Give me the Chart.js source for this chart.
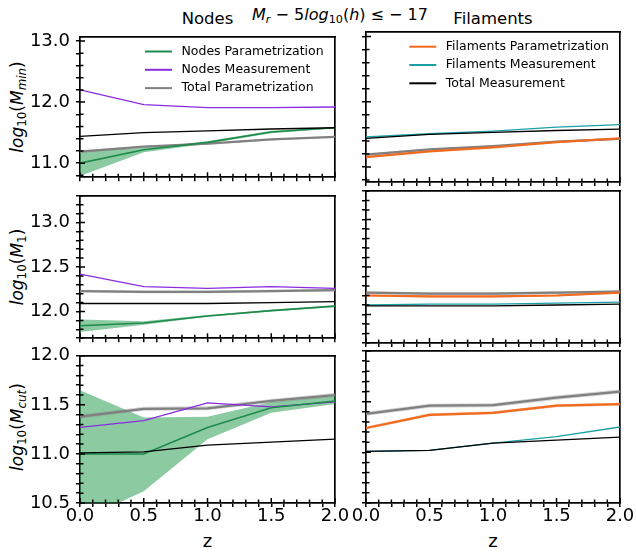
<!DOCTYPE html>
<html lang="en">
<head>
<meta charset="UTF-8">
<title>HOD parameters vs redshift</title>
<script src="https://cdn.jsdelivr.net/npm/chart.js"></script>
<style>
  body { margin: 0; background: #fff; font-family: "DejaVu Sans", sans-serif; }
  #fig { position: relative; width: 636px; height: 554px; overflow: hidden; }
  #fig canvas { position: absolute; }
  .txt { position: absolute; white-space: nowrap; line-height: 1; color: #000; }
  .ctr { transform: translateX(-50%); }
  .ylab { font-size: 17px; transform: translate(-50%, -50%) rotate(-90deg); }
  sub { font-size: 70%; vertical-align: -0.3em; line-height: 0; }
</style>
</head>
<body>
<div id="fig">
  <div class="txt ctr" style="left:340px; top:7px; font-size:16px;"><i>M</i><sub><i>r</i></sub> &minus; 5<i>log</i><sub>10</sub>(<i>h</i>) &le; &minus; 17</div>
  <div class="txt ctr" style="left:207.5px; top:11px; font-size:16.5px;">Nodes</div>
  <div class="txt ctr" style="left:493px; top:11px; font-size:16.5px;">Filaments</div>
  <div class="txt ylab" style="left:17px; top:107px;"><i>log</i><sub>10</sub>(<i>M</i><sub><i>min</i></sub>)</div>
  <div class="txt ylab" style="left:17px; top:267px;"><i>log</i><sub>10</sub>(<i>M</i><sub>1</sub>)</div>
  <div class="txt ylab" style="left:17px; top:427px;"><i>log</i><sub>10</sub>(<i>M</i><sub><i>cut</i></sub>)</div>
  <div class="txt ctr" style="left:207.5px; top:532px; font-size:18px;">z</div>
  <div class="txt ctr" style="left:493px; top:532px; font-size:18px;">z</div>
</div>

<script>
const zValues = [0.0, 0.5, 1.0, 1.5, 2.0];

// log10(M_min)
const mminNodesParam   = [11.00, 11.22, 11.34, 11.51, 11.58];
const mminNodesParamLo = [10.79, 11.18, 11.32, 11.49, 11.57];
const mminNodesParamHi = [11.20, 11.25, 11.36, 11.53, 11.59];
const mminNodesMeas    = [12.20, 11.96, 11.91, 11.91, 11.92];
const mminFilParam     = [11.15, 11.24, 11.30, 11.38, 11.44];
const mminFilParamLo   = [11.14, 11.23, 11.29, 11.37, 11.43];
const mminFilParamHi   = [11.16, 11.25, 11.31, 11.39, 11.45];
const mminFilMeas      = [11.46, 11.51, 11.55, 11.61, 11.65];
const mminTotalParam   = [11.19, 11.27, 11.32, 11.39, 11.43];
const mminTotalParamLo = [11.17, 11.25, 11.30, 11.37, 11.42];
const mminTotalParamHi = [11.21, 11.28, 11.33, 11.40, 11.44];
const mminTotalMeas    = [11.44, 11.50, 11.53, 11.56, 11.58];

// log10(M_1)
const m1NodesParam   = [11.84, 11.87, 11.95, 12.01, 12.06];
const m1NodesParamLo = [11.77, 11.85, 11.94, 12.00, 12.05];
const m1NodesParamHi = [11.91, 11.89, 11.96, 12.02, 12.07];
const m1NodesMeas    = [12.42, 12.28, 12.26, 12.28, 12.26];
const m1FilParam     = [12.20, 12.19, 12.19, 12.20, 12.23];
const m1FilParamLo   = [12.19, 12.18, 12.18, 12.19, 12.22];
const m1FilParamHi   = [12.21, 12.20, 12.20, 12.21, 12.24];
const m1FilMeas      = [12.10, 12.11, 12.11, 12.12, 12.13];
const m1TotalParam   = [12.23, 12.22, 12.22, 12.23, 12.24];
const m1TotalParamLo = [12.215, 12.205, 12.205, 12.215, 12.225];
const m1TotalParamHi = [12.245, 12.235, 12.235, 12.245, 12.255];
const m1TotalMeas    = [12.09, 12.09, 12.09, 12.10, 12.11];

// log10(M_cut)
const mcutNodesParam   = [11.00, 11.00, 11.27, 11.47, 11.54];
const mcutNodesParamLo = [10.32, 10.62, 11.15, 11.42, 11.51];
const mcutNodesParamHi = [11.65, 11.37, 11.38, 11.53, 11.59];
const mcutNodesMeas    = [11.27, 11.34, 11.52, 11.48, 11.53];
const mcutFilParam     = [11.24, 11.37, 11.39, 11.46, 11.475];
const mcutFilParamLo   = [11.225, 11.355, 11.375, 11.445, 11.46];
const mcutFilParamHi   = [11.255, 11.385, 11.405, 11.475, 11.49];
const mcutFilMeas      = [11.01, 11.02, 11.09, 11.155, 11.25];
const mcutTotalParam   = [11.38, 11.46, 11.465, 11.54, 11.60];
const mcutTotalParamLo = [11.36, 11.44, 11.445, 11.52, 11.58];
const mcutTotalParamHi = [11.40, 11.48, 11.485, 11.56, 11.62];
const mcutTotalMeas    = [11.01, 11.02, 11.09, 11.12, 11.15];

// labelled ticks on each row's y axis and on the z axis
const mminTicks = [11.0, 12.0, 13.0];
const m1Ticks   = [12.0, 12.5, 13.0];
const mcutTicks = [10.5, 11.0, 11.5, 12.0];
const zTicks    = [0.0, 0.5, 1.0, 1.5, 2.0];

const GREEN = '#1e8b4c', PURPLE = '#8a2be2', ORANGE = '#f06a1f', TEAL = '#1a9fa5', GRAY = '#808080', BLACK = '#000000';

// page geometry of the plot boxes
const cols = [{ left: 80, right: 335 }, { left: 366, right: 620 }];
const rows = [{ top: 32, bottom: 182 }, { top: 191, bottom: 343 }, { top: 351, bottom: 503 }];
const yRanges = [
  { min: 10.77, max: 13.07, ticks: mminTicks, minor: 0.2 },
  { min: 11.70, max: 13.30, ticks: m1Ticks, minor: 0.1 },
  { min: 10.50, max: 12.00, ticks: mcutTicks, minor: 0.1 }
];
const AXIS_W = 75, PAD_T = 12, PAD_R = 25, XLAB_H = 40;

const pts = arr => zValues.map((z, i) => ({ x: z, y: arr[i] }));
const isMajor = (v, list) => list.some(m => Math.abs(m - v) < 1e-6);

// every minor tick position between lo and hi
function tickSteps(lo, hi, step) {
  const out = [];
  for (let k = Math.ceil(lo / step - 1e-6); k <= Math.floor(hi / step + 1e-6); k++) {
    out.push(Math.round(k * step * 1000) / 1000);
  }
  return out;
}

function line(label, data, color, width) {
  return { label, data: pts(data), borderColor: color, borderWidth: width, pointRadius: 0, fill: false };
}
function band(lo, hi, color) {
  return [
    { label: '', data: pts(lo), borderColor: 'transparent', borderWidth: 0, pointRadius: 0, fill: false },
    { label: '', data: pts(hi), borderColor: 'transparent', borderWidth: 0, pointRadius: 0, fill: '-1', backgroundColor: color }
  ];
}

// inner half of the ticks plus the in-panel legend
const panelDecor = {
  id: 'panelDecor',
  afterDraw(chart) {
    const { ctx, chartArea: a } = chart;
    const x = chart.scales.x, y = chart.scales.y;
    const cfg = chart.options.plugins.panelDecor;
    ctx.save();
    ctx.strokeStyle = '#000000';
    ctx.lineWidth = 1.5;
    ctx.beginPath();
    tickSteps(0, 2, 0.1).forEach(v => {
      const px = x.getPixelForValue(v);
      const len = isMajor(v, zTicks) ? 5 : 3.5;
      ctx.moveTo(px, a.bottom);
      ctx.lineTo(px, a.bottom - len);
    });
    tickSteps(y.min, y.max, cfg.minor).forEach(v => {
      const py = y.getPixelForValue(v);
      const len = isMajor(v, cfg.majors) ? 5 : 3.5;
      ctx.moveTo(a.left, py);
      ctx.lineTo(a.left + len, py);
    });
    ctx.stroke();

    if (cfg.legend) {
      ctx.font = '12.5px "DejaVu Sans"';
      ctx.textBaseline = 'middle';
      ctx.fillStyle = '#000';
      cfg.legend.items.forEach((label, i) => {
        const ds = chart.data.datasets.find(d => d.label === label);
        const yy = a.top + cfg.legend.y + i * 18.3;
        const xx = a.left + cfg.legend.x;
        ctx.strokeStyle = ds.borderColor;
        ctx.lineWidth = 2;
        ctx.beginPath();
        ctx.moveTo(xx, yy);
        ctx.lineTo(xx + 27, yy);
        ctx.stroke();
        ctx.fillText(label, xx + 36.5, yy);
      });
    }
    ctx.restore();
  }
};

const panels = [
  { row: 0, col: 0, legend: { x: 65, y: 14.7, items: ['Nodes Parametrization', 'Nodes Measurement', 'Total Parametrization'] },
    datasets: [
      line('Total Measurement', mminTotalMeas, BLACK, 1.3),
      line('Nodes Parametrization', mminNodesParam, GREEN, 1.6),
      line('Nodes Measurement', mminNodesMeas, PURPLE, 1.3),
      line('Total Parametrization', mminTotalParam, GRAY, 2.2),
      ...band(mminTotalParamLo, mminTotalParamHi, 'rgba(128,128,128,0.35)'),
      ...band(mminNodesParamLo, mminNodesParamHi, 'rgba(26,150,70,0.5)')
    ] },
  { row: 0, col: 1, legend: { x: 43.3, y: 14.7, items: ['Filaments Parametrization', 'Filaments Measurement', 'Total Measurement'] },
    datasets: [
      line('Total Measurement', mminTotalMeas, BLACK, 1.3),
      line('Filaments Measurement', mminFilMeas, TEAL, 1.3),
      line('Filaments Parametrization', mminFilParam, ORANGE, 2.2),
      line('Total Parametrization', mminTotalParam, GRAY, 2.2),
      ...band(mminTotalParamLo, mminTotalParamHi, 'rgba(128,128,128,0.35)'),
      ...band(mminFilParamLo, mminFilParamHi, 'rgba(240,106,31,0.35)')
    ] },
  { row: 1, col: 0,
    datasets: [
      line('Total Measurement', m1TotalMeas, BLACK, 1.3),
      line('Nodes Parametrization', m1NodesParam, GREEN, 1.6),
      line('Nodes Measurement', m1NodesMeas, PURPLE, 1.3),
      line('Total Parametrization', m1TotalParam, GRAY, 2.2),
      ...band(m1TotalParamLo, m1TotalParamHi, 'rgba(128,128,128,0.35)'),
      ...band(m1NodesParamLo, m1NodesParamHi, 'rgba(26,150,70,0.5)')
    ] },
  { row: 1, col: 1,
    datasets: [
      line('Total Measurement', m1TotalMeas, BLACK, 1.3),
      line('Filaments Measurement', m1FilMeas, TEAL, 1.3),
      line('Filaments Parametrization', m1FilParam, ORANGE, 2.2),
      line('Total Parametrization', m1TotalParam, GRAY, 2.2),
      ...band(m1TotalParamLo, m1TotalParamHi, 'rgba(128,128,128,0.35)'),
      ...band(m1FilParamLo, m1FilParamHi, 'rgba(240,106,31,0.35)')
    ] },
  { row: 2, col: 0,
    datasets: [
      line('Total Measurement', mcutTotalMeas, BLACK, 1.3),
      line('Nodes Parametrization', mcutNodesParam, GREEN, 1.6),
      line('Nodes Measurement', mcutNodesMeas, PURPLE, 1.3),
      line('Total Parametrization', mcutTotalParam, GRAY, 2.2),
      ...band(mcutTotalParamLo, mcutTotalParamHi, 'rgba(128,128,128,0.35)'),
      ...band(mcutNodesParamLo, mcutNodesParamHi, 'rgba(26,150,70,0.5)')
    ] },
  { row: 2, col: 1,
    datasets: [
      line('Total Measurement', mcutTotalMeas, BLACK, 1.3),
      line('Filaments Measurement', mcutFilMeas, TEAL, 1.3),
      line('Filaments Parametrization', mcutFilParam, ORANGE, 2.2),
      line('Total Parametrization', mcutTotalParam, GRAY, 2.2),
      ...band(mcutTotalParamLo, mcutTotalParamHi, 'rgba(128,128,128,0.35)'),
      ...band(mcutFilParamLo, mcutFilParamHi, 'rgba(240,106,31,0.35)')
    ] }
];

const fig = document.getElementById('fig');
const spine = { display: true, color: '#000000', width: 1.7 };
const outerTicks = { display: true, drawOnChartArea: false, drawTicks: true, tickLength: 4, color: '#000000', lineWidth: 1.5 };

panels.forEach(p => {
  const c = cols[p.col], r = rows[p.row], yr = yRanges[p.row];
  const bottomRow = p.row === 2;
  const xH = bottomRow ? XLAB_H : 12;
  const canvas = document.createElement('canvas');
  canvas.width = AXIS_W + (c.right - c.left) + PAD_R;
  canvas.height = PAD_T + (r.bottom - r.top) + xH;
  canvas.style.left = (c.left - AXIS_W) + 'px';
  canvas.style.top = (r.top - PAD_T) + 'px';
  fig.appendChild(canvas);

  new Chart(canvas, {
    type: 'line',
    data: { datasets: p.datasets },
    options: {
      responsive: false,
      animation: false,
      layout: { padding: { left: 0, top: PAD_T, right: PAD_R, bottom: 0 } },
      elements: { line: { tension: 0 } },
      scales: {
        x: {
          type: 'linear', min: 0, max: 2,
          grid: outerTicks, border: spine,
          ticks: {
            display: bottomRow, autoSkip: false, maxRotation: 0, padding: -1,
            color: '#000', font: { family: 'DejaVu Sans', size: 18 },
            callback: v => isMajor(v, zTicks) ? v.toFixed(1) : ''
          },
          afterBuildTicks: s => { s.ticks = tickSteps(0, 2, 0.1).map(v => ({ value: v })); },
          afterFit: s => { s.height = xH; }
        },
        y: {
          type: 'linear', min: yr.min, max: yr.max,
          grid: outerTicks, border: spine,
          ticks: {
            display: p.col === 0, autoSkip: false, padding: 6,
            color: '#000', font: { family: 'DejaVu Sans', size: 18 },
            callback: v => isMajor(v, yr.ticks) ? v.toFixed(1) : ''
          },
          afterBuildTicks: s => { s.ticks = tickSteps(yr.min, yr.max, yr.minor).map(v => ({ value: v })); },
          afterFit: s => { s.width = AXIS_W; }
        },
        xTop: {
          type: 'linear', position: 'top', min: 0, max: 2,
          grid: { display: false }, border: spine, ticks: { display: false },
          afterFit: s => { s.height = 0; }
        },
        yRight: {
          type: 'linear', position: 'right', min: yr.min, max: yr.max,
          grid: { display: false }, border: spine, ticks: { display: false },
          afterFit: s => { s.width = 0; }
        }
      },
      plugins: {
        legend: { display: false },
        tooltip: { enabled: false },
        filler: { drawTime: 'beforeDatasetsDraw' },
        panelDecor: { minor: yr.minor, majors: yr.ticks, legend: p.legend || null }
      }
    },
    plugins: [panelDecor]
  });
});
</script>
</body>
</html>
